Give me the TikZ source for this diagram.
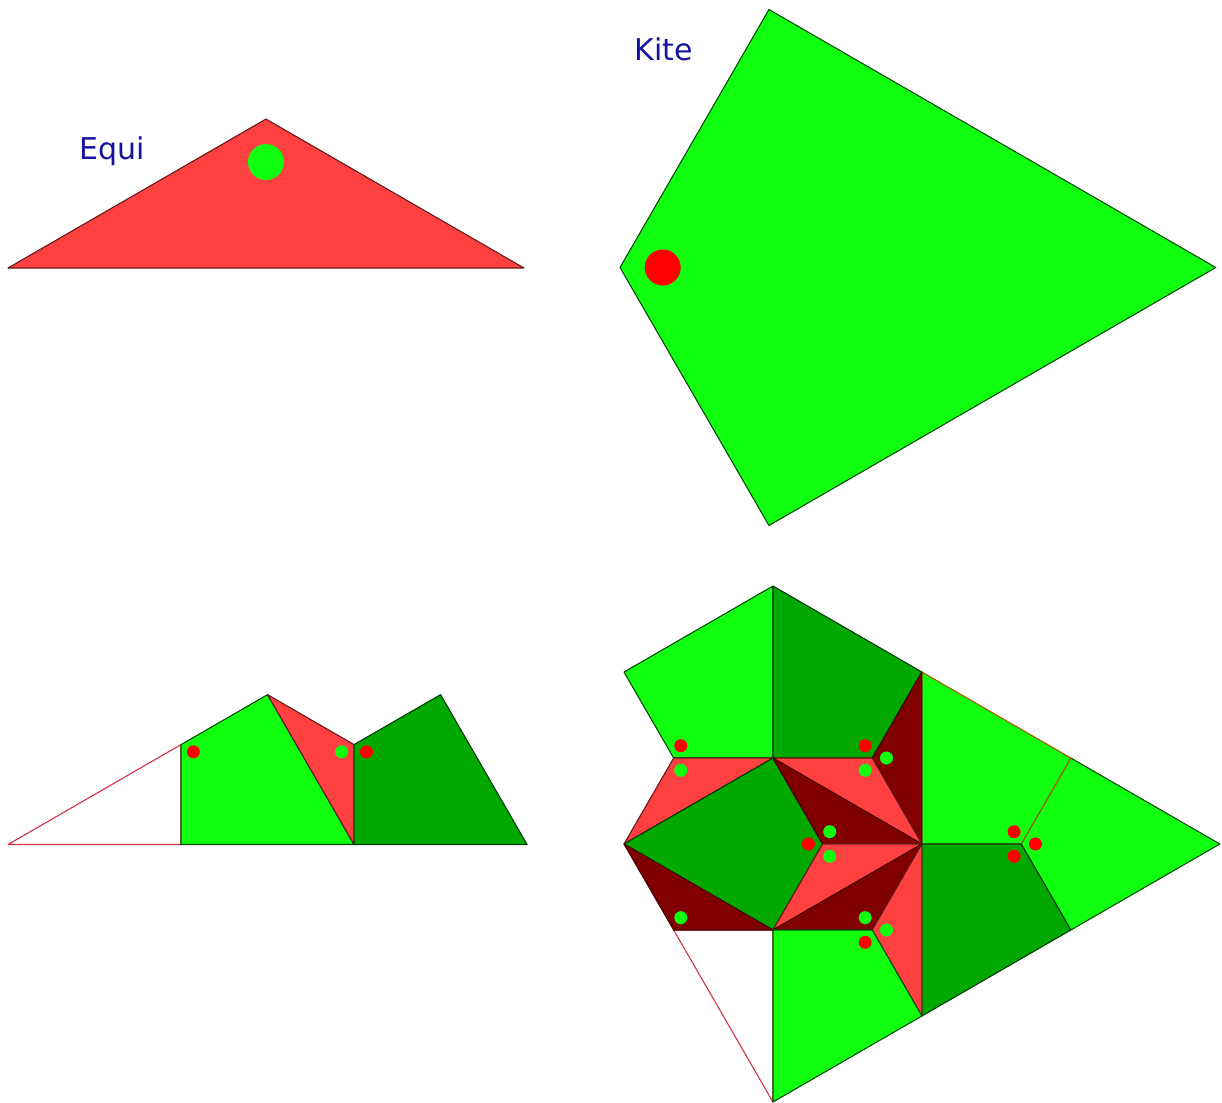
\documentclass[tikz,border=0pt]{standalone}
\usepackage{fontspec}
\newfontfamily\labfont{DejaVu Sans}
\usetikzlibrary{calc}
\definecolor{lgreen}{RGB}{16,255,16}
\definecolor{dgreen}{RGB}{0,168,0}
\definecolor{lred}{RGB}{255,64,64}
\definecolor{maroonc}{RGB}{128,0,0}
\definecolor{dotred}{RGB}{255,0,0}
\definecolor{dotgreen}{RGB}{16,255,16}
\definecolor{navyc}{RGB}{20,20,160}
\definecolor{brownedge}{RGB}{160,95,0}
\definecolor{pinkedge}{RGB}{210,50,70}
\begin{document}
\begin{tikzpicture}[x=1pt,y=-1pt,line join=round,
  lg/.style={fill=lgreen,draw=lgreen!30!black,line width=1.1pt},
  lgb/.style={fill=lgreen,draw=brownedge,line width=1.1pt},
  dg/.style={fill=dgreen,draw=dgreen!35!black,line width=1.1pt},
  lr/.style={fill=lred,draw=lred!40!black,line width=1.1pt},
  mr/.style={fill=maroonc,draw=maroonc!60!black,line width=1.1pt},
  wt/.style={fill=white,draw=pinkedge,line width=1.1pt},
  lab/.style={font=\labfont\fontsize{30}{32}\selectfont,text=navyc,inner sep=0pt,anchor=base},
  rdot/.style={fill=dotred},
  gdot/.style={fill=dotgreen}]
\useasboundingbox (0,0) rectangle (1222,1102);

% labels
\node[lab] (equilabel) at (112,160) {Equi};
\node[lab] (kitelabel) at (664,61) {Kite};

% top: Equi triangle
\begin{scope}[shift={(8pt,-268pt)},x=99.3pt,y=99.3pt]
  \coordinate (ea) at (0,0);
  \coordinate (eb) at (2.598,1.5);
  \coordinate (ec) at (5.196,0);
  \draw[lr] (ea)--(eb)--(ec)--cycle;
  \fill[gdot] (2.598,1.067) circle (18pt);
\end{scope}

% top: Kite
\begin{scope}[shift={(620pt,-267.5pt)},x=99.3pt,y=99.3pt]
  \coordinate (ko) at (0,0);
  \coordinate (kt) at (1.5,2.598);
  \coordinate (kr) at (6,0);
  \coordinate (kb) at (1.5,-2.598);
  \draw[lg] (ko)--(kt)--(kr)--(kb)--cycle;
  \fill[rdot] (0.43,0) circle (18pt);
\end{scope}

% bottom-left: Equi substitution
\begin{scope}[shift={(8pt,-844.5pt)},x=99.9pt,y=99.9pt]
  \coordinate (L) at (0,0);
  \coordinate (A) at (2.598,1.5);
  \coordinate (W1) at (1.732,1);
  \coordinate (W2) at (1.732,0);
  \coordinate (M) at (3.464,0);
  \coordinate (N) at (3.464,1);
  \coordinate (K) at (4.330,1.5);
  \coordinate (Rt) at (5.196,0);
  \draw[wt] (L)--(W1)--(W2)--cycle;
  \draw[lg] (W1)--(A)--(M)--(W2)--cycle;
  \draw[lr] (A)--(N)--(M)--cycle;
  \draw[dg] (N)--(K)--(Rt)--(M)--cycle;
  \fill[rdot] (1.856,0.928) circle (6.5pt);
  \fill[gdot] (3.340,0.928) circle (6.5pt);
  \fill[rdot] (3.588,0.928) circle (6.5pt);
\end{scope}

% bottom-right: Kite substitution
\begin{scope}[shift={(624pt,-844pt)},x=99.3pt,y=99.3pt]
  \coordinate (O) at (0,0);
  \coordinate (T) at (1.5,2.598);
  \coordinate (R) at (6,0);
  \coordinate (B) at (1.5,-2.598);
  \coordinate (P1) at (0,1.732);
  \coordinate (P2) at (0.5,0.866);
  \coordinate (P3) at (1.5,0.866);
  \coordinate (Q1) at (3,1.732);
  \coordinate (Q2) at (2.5,0.866);
  \coordinate (C) at (3,0);
  \coordinate (E) at (2,0);
  \coordinate (F) at (1.5,-0.866);
  \coordinate (G) at (2.5,-0.866);
  \coordinate (H) at (0.5,-0.866);
  \coordinate (D) at (3,-1.732);
  \coordinate (V) at (4,0);
  \coordinate (S) at (4.5,0.866);
  \coordinate (S2) at (4.5,-0.866);
  % pieces
  \draw[wt] (H)--(F)--(B)--cycle;
  \draw[lg] (V)--(S)--(R)--(S2)--cycle;
  \draw[lgb] (Q1)--(S)--(V)--(C)--cycle;
  \draw[dg] (C)--(V)--(S2)--(D)--cycle;
  \draw[lg] (T)--(P1)--(P2)--(P3)--cycle;
  \draw[dg] (T)--(Q1)--(Q2)--(P3)--cycle;
  \draw[mr] (Q1)--(Q2)--(C)--cycle;
  \draw[lr] (O)--(P2)--(P3)--cycle;
  \draw[dg] (O)--(P3)--(E)--(F)--cycle;
  \draw[lr] (P3)--(Q2)--(C)--cycle;
  \draw[mr] (P3)--(E)--(C)--cycle;
  \draw[lr] (E)--(C)--(F)--cycle;
  \draw[mr] (F)--(C)--(G)--cycle;
  \draw[lr] (C)--(G)--(D)--cycle;
  \draw[lg] (G)--(F)--(B)--(D)--cycle;
  \draw[mr] (O)--(F)--(H)--cycle;
  % dots
  \fill[rdot] (0.5715,0.990) circle (6.5pt);
  \fill[gdot] (0.5715,0.742) circle (6.5pt);
  \fill[rdot] (2.4285,0.990) circle (6.5pt);
  \fill[gdot] (2.643,0.866) circle (6.5pt);
  \fill[gdot] (2.4285,0.742) circle (6.5pt);
  \fill[rdot] (1.857,0) circle (6.5pt);
  \fill[gdot] (2.0715,0.124) circle (6.5pt);
  \fill[gdot] (2.0715,-0.124) circle (6.5pt);
  \fill[gdot] (2.4285,-0.742) circle (6.5pt);
  \fill[gdot] (2.643,-0.866) circle (6.5pt);
  \fill[rdot] (2.4285,-0.990) circle (6.5pt);
  \fill[gdot] (0.5715,-0.742) circle (6.5pt);
  \fill[rdot] (3.9285,0.124) circle (6.5pt);
  \fill[rdot] (4.143,0) circle (6.5pt);
  \fill[rdot] (3.9285,-0.124) circle (6.5pt);
\end{scope}
\end{tikzpicture}
\end{document}
